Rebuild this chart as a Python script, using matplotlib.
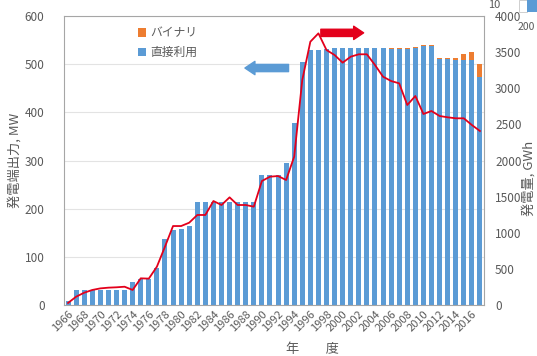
import matplotlib.pyplot as plt
import numpy as np
from matplotlib.patches import Rectangle

plt.rcParams['font.family'] = ['Noto Sans CJK JP', 'DejaVu Sans']

# 年度 1966-2017
years = list(range(1966, 2018))

# 直接利用 (MW)
direct_mw = [9, 31, 31, 31, 31, 31, 31, 32, 47, 53,
             53, 77, 138, 156, 158, 163, 213, 213, 213, 213,
             213, 213, 213, 213, 270, 270, 270, 295, 377, 504,
             530, 530, 531, 533, 533, 533, 533, 533, 533, 533,
             531, 531, 531, 533, 537, 537, 511, 511, 508, 509,
             509, 474]

# バイナリ (MW)
binary_mw = [0] * 40 + [2, 2, 2, 3, 3, 3, 2, 2, 5, 12, 17, 26]

# 発電量 (GWh)
energy_gwh = [28, 115, 170, 208, 230, 240, 245, 253, 208, 369,
              365, 530, 807, 1093, 1093, 1139, 1246, 1246, 1439, 1384,
              1490, 1384, 1384, 1361, 1716, 1776, 1785, 1730, 2053, 3114,
              3644, 3760, 3529, 3460, 3354, 3437, 3470, 3470, 3322, 3160,
              3100, 3068, 2768, 2893, 2644, 2685, 2616, 2598, 2584, 2584,
              2491, 2408]

blue = '#5B9BD5'
orange = '#ED7D31'
red = '#E3001B'
grey = '#595959'

fig = plt.figure(figsize=(5.37, 3.56), dpi=100)
ax = fig.add_axes([64 / 537, 1 - 305 / 356, 420 / 537, 289 / 356])
x = np.arange(len(years))

ax.bar(x, direct_mw, width=0.62, color=blue, label='直接利用', zorder=2)
ax.bar(x, binary_mw, width=0.62, bottom=direct_mw, color=orange, label='バイナリ', zorder=2)

ax.set_xlim(-0.5, len(years) - 0.5)
ax.set_ylim(0, 600)
ax.set_yticks(range(0, 601, 100))
ax.yaxis.grid(True, color='#E3E3E3', linewidth=0.8, zorder=0)
ax.set_axisbelow(True)
ax.set_xticks(x[::2])
ax.set_xticklabels([str(y) for y in years[::2]], rotation=45, ha='right',
                   rotation_mode='anchor', fontsize=8, color=grey)
ax.tick_params(axis='y', labelsize=8.5, labelcolor=grey, length=0, pad=14)
ax.tick_params(axis='x', length=0, pad=3)
for s in ax.spines.values():
    s.set_color('#A6A6A6')
    s.set_linewidth(0.8)
ax.set_ylabel('発電端出力, MW', fontsize=9.5, color=grey, labelpad=2)

handles, labels = ax.get_legend_handles_labels()
ax.legend(handles[::-1], labels[::-1], loc='upper left', bbox_to_anchor=(0.15, 1.0),
          frameon=False, fontsize=8.5, handlelength=0.7, handleheight=0.7,
          handletextpad=0.4, labelspacing=0.55, labelcolor=grey)

ax2 = ax.twinx()
ax2.plot(x, energy_gwh, color=red, linewidth=1.3, zorder=3)
ax2.set_ylim(0, 4000)
ax2.set_yticks(range(0, 4001, 500))
ax2.tick_params(axis='y', labelsize=8.5, labelcolor=grey, length=0, pad=8)
for s in ax2.spines.values():
    s.set_visible(False)

# 軸を示す矢印
ax.annotate('', xy=(21.9, 492), xytext=(27.3, 492),
            arrowprops=dict(arrowstyle='simple,head_width=1.2,head_length=0.9,tail_width=0.65',
                            color=blue, mutation_scale=8, shrinkA=0, shrinkB=0))
ax.annotate('', xy=(36.6, 565), xytext=(31.3, 565),
            arrowprops=dict(arrowstyle='simple,head_width=1.2,head_length=0.9,tail_width=0.65',
                            color=red, mutation_scale=8, shrinkA=0, shrinkB=0))

fig.text(313 / 537, 1 - 349 / 356, '年　　度', fontsize=9.5, color=grey, ha='center', va='center')
fig.text(522 / 537, 0.50, '発電量, GWh', fontsize=9.5, color=grey, rotation=90,
         ha='left', va='center')

# 右上に隣の図の一部
fig.patches.append(Rectangle((519 / 537, 1 - 12 / 356), 8 / 537, 12 / 356,
                             transform=fig.transFigure, facecolor='white',
                             edgecolor='#C8C8C8', linewidth=0.6))
fig.patches.append(Rectangle((527 / 537, 1 - 12 / 356), 10 / 537, 12 / 356,
                             transform=fig.transFigure, facecolor=blue, linewidth=0))
fig.text(488 / 537, 1 - 5 / 356, '10', fontsize=8, color=grey, ha='left', va='center')
fig.text(518 / 537, 1 - 27 / 356, '200', fontsize=7.5, color=grey, ha='left', va='center')

fig.savefig('out.png', dpi=100)
